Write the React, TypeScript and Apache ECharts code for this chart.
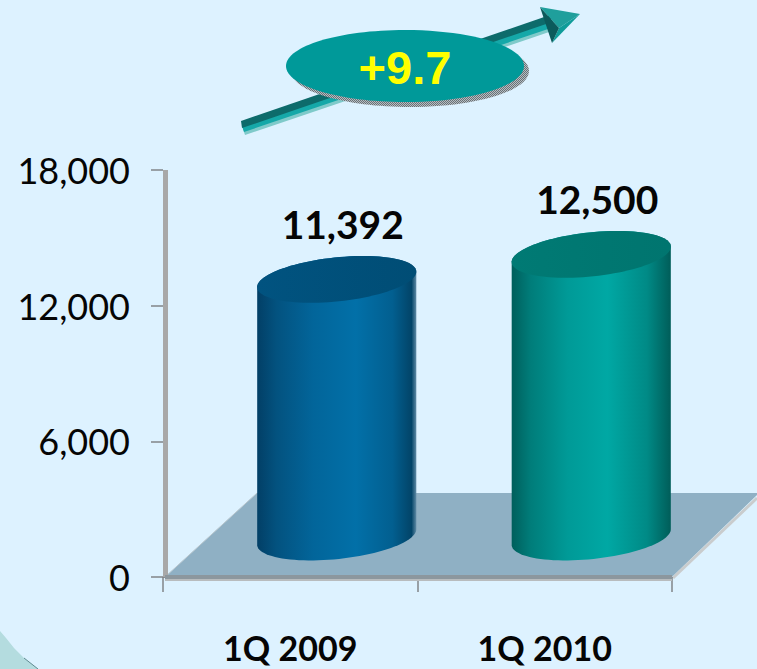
import React, { useEffect, useRef } from "react";
import * as echarts from "echarts";

// Net figures by quarter
const categories = ["1Q 2009", "1Q 2010"];
const values = [11392, 12500];
const yMax = 18000;
const yStep = 6000;
const growthLabel = "+9.7";

const WIDTH = 757;
const HEIGHT = 669;
const GRID = { left: 163, top: 170, right: 85, bottom: 92 };

// Cylinder looks: side gradient stops and lid colours
const SIDE_STOPS = [
  [
    [0, "#023f66"],
    [0.12, "#03527f"],
    [0.35, "#02659a"],
    [0.62, "#0270a8"],
    [0.85, "#025f90"],
    [0.97, "#024468"],
    [1, "#5f8aa5"],
  ],
  [
    [0, "#005f5c"],
    [0.12, "#007d7a"],
    [0.35, "#009a97"],
    [0.6, "#00a8a4"],
    [0.85, "#008a86"],
    [1, "#005d59"],
  ],
];
const LID_COLORS = [
  ["#015380", "#004d75"],
  ["#007a74", "#00756f"],
];

// Isometric depth shift of the columns over the floor
const DEPTH_X = 46.5;
const DEPTH_Y = -40;
const RADIUS_X = 80;
const RADIUS_Y = 22;
const TILT = (6 * Math.PI) / 180;

function ellipsePoint(cx: number, cy: number, t: number): number[] {
  const ex = RADIUS_X * Math.cos(t);
  const ey = RADIUS_Y * Math.sin(t);
  return [cx + ex * Math.cos(TILT) + ey * Math.sin(TILT), cy - ex * Math.sin(TILT) + ey * Math.cos(TILT)];
}

function arcPoints(cx: number, cy: number, from: number, to: number, steps: number): number[][] {
  const pts: number[][] = [];
  for (let i = 0; i <= steps; i++) pts.push(ellipsePoint(cx, cy, from + ((to - from) * i) / steps));
  return pts;
}

function renderCylinder(params: any, api: any) {
  const idx = params.dataIndex;
  const value = api.value(1);
  const base = api.coord([api.value(0), 0]);
  const top = api.coord([api.value(0), value]);
  const cx = base[0] + DEPTH_X;
  const by = base[1] + DEPTH_Y;
  const ty = top[1] + DEPTH_Y;
  // Outline: front of the bottom rim left to right, then back of the top rim right to left
  const sidePts = [...arcPoints(cx, by, Math.PI, 0, 48), ...arcPoints(cx, ty, 0, -Math.PI, 48)];
  const lidPts = arcPoints(cx, ty, 0, Math.PI * 2, 96);
  return {
    type: "group",
    children: [
      {
        type: "polygon",
        shape: { points: sidePts },
        style: {
          fill: new echarts.graphic.LinearGradient(
            0,
            0,
            1,
            0,
            SIDE_STOPS[idx].map(([offset, color]) => ({ offset: offset as number, color: color as string }))
          ),
        },
      },
      {
        type: "polygon",
        shape: { points: lidPts },
        style: {
          fill: new echarts.graphic.LinearGradient(0, 0, 1, 0, [
            { offset: 0, color: LID_COLORS[idx][0] },
            { offset: 1, color: LID_COLORS[idx][1] },
          ]),
        },
      },
      {
        type: "text",
        style: {
          text: value.toLocaleString("en-US"),
          x: cx + 6,
          y: ty - 55,
          align: "center",
          verticalAlign: "middle",
          fontFamily: "Lato",
          fontWeight: "bold",
          fontSize: 39,
          fill: "#050505",
        },
      },
    ],
  };
}

function ditherPattern() {
  const c = document.createElement("canvas");
  c.width = 2;
  c.height = 2;
  const ctx = c.getContext("2d")!;
  ctx.fillStyle = "#b4bec4";
  ctx.fillRect(0, 0, 2, 2);
  ctx.fillStyle = "#6a7074";
  ctx.fillRect(0, 0, 1, 1);
  ctx.fillRect(1, 1, 1, 1);
  return c.toDataURL("image/png");
}

function decorations() {
  return [
    // corner swoosh of the slide
    {
      type: "polygon",
      z: 0,
      shape: { points: [[0, 631], [6, 638], [14, 648], [24, 658], [38, 669], [0, 669]] },
      style: { fill: "#b4dcdf" },
    },
    {
      type: "polyline",
      z: 0,
      shape: { points: [[24, 658], [38, 669]] },
      style: { stroke: "#5f8a90", lineWidth: 1, fill: "none" },
    },
    // floor of the plot
    {
      type: "polygon",
      z: 0,
      shape: { points: [[165, 577], [672, 577], [757, 495], [757, 493], [257, 493]] },
      style: { fill: "#8fb0c4" },
    },
    {
      type: "polyline",
      z: 0,
      shape: { points: [[673, 578], [757, 498]] },
      style: { stroke: "#c9cccd", lineWidth: 3, fill: "none" },
    },
    {
      type: "polyline",
      z: 0,
      shape: { points: [[165, 577], [257, 493]] },
      style: { stroke: "#b9c6cd", lineWidth: 1, fill: "none" },
    },
    // wall edge and floor front edge
    { type: "rect", z: 1, shape: { x: 163, y: 170, width: 5, height: 407 }, style: { fill: "#a8a8a8" } },
    { type: "rect", z: 1, shape: { x: 165, y: 575, width: 507, height: 4 }, style: { fill: "#8c979e" } },
    { type: "rect", z: 1, shape: { x: 165, y: 579, width: 507, height: 2 }, style: { fill: "#b8bcbe" } },
    // rising arrow: shaft strips
    {
      type: "polygon",
      z: 3,
      shape: { points: [[245, 135], [243, 129], [553, 23], [555, 30]] },
      style: { fill: "#7fcaca" },
    },
    {
      type: "polygon",
      z: 3,
      shape: { points: [[244, 132], [242, 126], [552, 20], [554, 27]] },
      style: { fill: "#15a8a8" },
    },
    {
      type: "polygon",
      z: 3,
      shape: { points: [[242, 128], [241, 121], [550, 15], [552, 22]] },
      style: { fill: "#0d6b6b" },
    },
    // rising arrow: head facets
    { type: "polygon", z: 3, shape: { points: [[540, 7], [580, 14], [559, 28]] }, style: { fill: "#1f9f9c" } },
    { type: "polygon", z: 3, shape: { points: [[580, 14], [559, 28], [552, 43]] }, style: { fill: "#0f9c99" } },
    { type: "polygon", z: 3, shape: { points: [[540, 7], [559, 28], [552, 43]] }, style: { fill: "#0b5a5b" } },
    // growth badge
    {
      type: "ellipse",
      z: 4,
      shape: { cx: 410, cy: 71, rx: 119, ry: 36 },
      style: { fill: { image: ditherPattern(), repeat: "repeat" } },
    },
    { type: "ellipse", z: 5, shape: { cx: 405, cy: 66, rx: 119, ry: 36 }, style: { fill: "#009999" } },
    {
      type: "text",
      z: 6,
      style: {
        text: growthLabel,
        x: 405,
        y: 67,
        align: "center",
        verticalAlign: "middle",
        fontFamily: "Liberation Sans",
        fontWeight: "bold",
        fontSize: 47,
        fill: "#ffff00",
      },
    },
  ];
}

export default function App() {
  const ref = useRef<HTMLDivElement>(null);

  useEffect(() => {
    const chart = echarts.init(ref.current!, null, { renderer: "svg" });
    chart.setOption({
      animation: false,
      backgroundColor: "#ddf2ff",
      grid: { ...GRID, containLabel: false },
      xAxis: {
        type: "category",
        data: categories,
        axisLine: { show: true, lineStyle: { color: "#8a8f92", width: 1 } },
        axisTick: { show: true, length: 15, lineStyle: { color: "#808588", width: 1.5 } },
        axisLabel: {
          margin: 53,
          fontFamily: "Lato",
          fontWeight: "bold",
          fontSize: 34,
          color: "#050505",
        },
        splitLine: { show: false },
      },
      yAxis: {
        type: "value",
        min: 0,
        max: yMax,
        interval: yStep,
        axisLine: { show: false },
        axisTick: { show: true, length: 12, lineStyle: { color: "#808588", width: 1.5 } },
        axisLabel: {
          margin: 33,
          fontFamily: "Lato",
          fontSize: 36,
          color: "#050505",
          formatter: (v: number) => v.toLocaleString("en-US"),
        },
        splitLine: { show: false },
      },
      series: [
        {
          type: "custom",
          renderItem: renderCylinder,
          encode: { x: 0, y: 1 },
          data: values.map((v, i) => [i, v]),
          clip: false,
          z: 2,
        },
      ],
      graphic: decorations(),
    });
    return () => chart.dispose();
  }, []);

  return (
    <div
      ref={ref}
      style={{ position: "absolute", left: 0, top: 0, width: WIDTH, height: HEIGHT, overflow: "hidden" }}
    />
  );
}
